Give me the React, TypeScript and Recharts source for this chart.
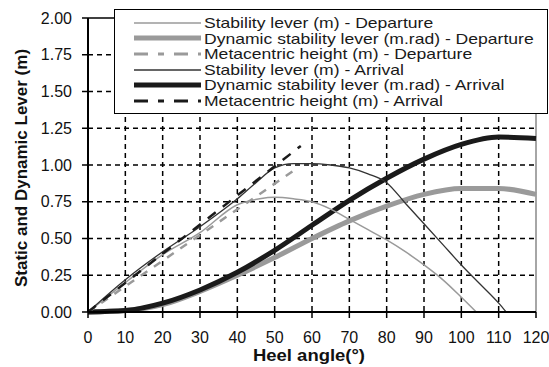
import React from "react";
import { LineChart, Line, XAxis, YAxis, CartesianGrid, ReferenceLine, Legend } from "recharts";

// heel angles (deg) and levers (m / m.rad)
const depStabAngles = [0, 10, 20, 30, 40, 46, 50, 55, 60, 65, 70, 75, 80, 85, 90, 95, 100, 104];
const depStab = [0, 0.2, 0.39, 0.54, 0.73, 0.77, 0.78, 0.77, 0.75, 0.7, 0.63, 0.56, 0.49, 0.41, 0.32, 0.22, 0.1, 0];

const arrStabAngles = [0, 10, 20, 30, 40, 45, 50, 55, 60, 65, 70, 75, 80, 85, 90, 95, 100, 105, 110, 112];
const arrStab = [0, 0.22, 0.41, 0.58, 0.77, 0.88, 0.98, 1.01, 1.01, 1.0, 0.98, 0.94, 0.88, 0.74, 0.6, 0.46, 0.32, 0.19, 0.06, 0];

const dynAngles = [0, 10, 20, 30, 40, 50, 60, 70, 80, 90, 100, 110, 120];
const depDyn = [0, 0.01, 0.05, 0.14, 0.25, 0.37, 0.5, 0.62, 0.72, 0.8, 0.84, 0.84, 0.8];
const arrDyn = [0, 0.01, 0.06, 0.15, 0.27, 0.42, 0.59, 0.76, 0.91, 1.04, 1.14, 1.19, 1.18];

const depGMAngles = [0, 55];
const depGM = [0, 0.96];
const arrGMAngles = [0, 57];
const arrGM = [0, 1.13];

const xTicks = [0, 10, 20, 30, 40, 50, 60, 70, 80, 90, 100, 110, 120];
const yTicks = [0, 0.25, 0.5, 0.75, 1, 1.25, 1.5, 1.75, 2];

const toPts = (xs: number[], ys: number[]) => xs.map((x, i) => ({ x, y: ys[i] }));

const FONT = "'Liberation Sans', Arial, sans-serif";
const GRAY = "#9a9a9a";
const DARK = "#1a1a1a";

const legendItems = [
  { label: "Stability lever (m) - Departure", color: GRAY, width: 1.5, dash: undefined },
  { label: "Dynamic stability lever (m.rad) - Departure", color: GRAY, width: 5, dash: undefined },
  { label: "Metacentric height (m) - Departure", color: GRAY, width: 3, dash: "14 10 6 10" },
  { label: "Stability lever (m) - Arrival", color: "#333", width: 1.5, dash: undefined },
  { label: "Dynamic stability lever (m.rad) - Arrival", color: DARK, width: 5, dash: undefined },
  { label: "Metacentric height (m) - Arrival", color: DARK, width: 3, dash: "14 10 6 10" },
];

function LegendBox() {
  return (
    <div
      style={{
        width: 434,
        height: 105,
        border: "1.5px solid #000",
        background: "#fff",
        paddingTop: 5,
        boxSizing: "border-box",
        fontFamily: FONT,
      }}
    >
      {legendItems.map((it) => (
        <div key={it.label} style={{ display: "flex", alignItems: "center", height: 15.6 }}>
          <svg width={86} height={12} style={{ flex: "none" }}>
            <line x1={19} x2={86} y1={6} y2={6} stroke={it.color} strokeWidth={it.width} strokeDasharray={it.dash} />
          </svg>
          <span
            style={{
              fontSize: 15,
              lineHeight: "15.6px",
              color: "#1a1a1a",
              whiteSpace: "nowrap",
              display: "inline-block",
              transform: "scaleX(1.17)",
              transformOrigin: "left center",
              marginLeft: 3,
            }}
          >
            {it.label}
          </span>
        </div>
      ))}
    </div>
  );
}

export default function App() {
  return (
    <div style={{ position: "absolute", left: 0, top: 0, width: 549, height: 367, background: "#fff" }}>
      <LineChart width={549} height={367} margin={{ top: 18, right: 13, bottom: 0, left: 0 }}>
        <CartesianGrid
          stroke="#000"
          strokeWidth={1.5}
          strokeDasharray="5 4"
          horizontalValues={[0.25, 0.5, 0.75, 1, 1.25, 1.5, 1.75]}
          verticalValues={[10, 20, 30, 40, 50, 60, 70, 80, 90, 100, 110]}
        />
        <XAxis
          type="number"
          dataKey="x"
          domain={[0, 120]}
          ticks={xTicks}
          allowDuplicatedCategory={false}
          height={55}
          tickSize={6}
          tickMargin={14}
          axisLine={{ stroke: "#000", strokeWidth: 2 }}
          tickLine={{ stroke: "#000", strokeWidth: 1.5 }}
          tick={{ fontSize: 16, fill: "#111", fontFamily: FONT }}
          label={{
            content: (p: any) => {
              const vb = p.viewBox || { x: 88, y: 312, width: 448 };
              return (
                <text
                  x={vb.x + vb.width / 2 - 3}
                  y={vb.y + 49}
                  textAnchor="middle"
                  fontFamily={FONT}
                  fontWeight="bold"
                  fontSize={16}
                  fill="#111"
                  textLength={112}
                  lengthAdjust="spacingAndGlyphs"
                >
                  Heel angle(°)
                </text>
              );
            },
          }}
        />
        <YAxis
          type="number"
          domain={[0, 2]}
          ticks={yTicks}
          width={88}
          tickSize={6}
          tickMargin={10}
          tickFormatter={(v: number) => v.toFixed(2)}
          axisLine={{ stroke: "#000", strokeWidth: 2 }}
          tickLine={{ stroke: "#000", strokeWidth: 1.5 }}
          tick={{ fontSize: 16, fill: "#111", fontFamily: FONT }}
          label={{
            content: (p: any) => {
              const vb = p.viewBox || { x: 0, y: 18, height: 294 };
              const cx = vb.x + 21;
              const cy = vb.y + vb.height / 2 + 3;
              return (
                <text
                  x={cx}
                  y={cy}
                  transform={`rotate(-90 ${cx} ${cy})`}
                  textAnchor="middle"
                  dominantBaseline="central"
                  fontFamily={FONT}
                  fontWeight="bold"
                  fontSize={17}
                  fill="#111"
                >
                  Static and Dynamic Lever (m)
                </text>
              );
            },
          }}
        />
        <ReferenceLine y={2} stroke="#000" strokeWidth={1.5} />
        <ReferenceLine x={120} stroke="#888" strokeWidth={1.5} />

        <Line data={toPts(dynAngles, depDyn)} dataKey="y" type="monotone" stroke={GRAY} strokeWidth={5} dot={false} isAnimationActive={false} />
        <Line data={toPts(dynAngles, arrDyn)} dataKey="y" type="monotone" stroke={DARK} strokeWidth={5} dot={false} isAnimationActive={false} />
        <Line data={toPts(depStabAngles, depStab)} dataKey="y" type="monotone" stroke={GRAY} strokeWidth={1.5} dot={false} isAnimationActive={false} />
        <Line data={toPts(arrStabAngles, arrStab)} dataKey="y" type="monotone" stroke="#333" strokeWidth={1.3} dot={false} isAnimationActive={false} />
        <Line data={toPts(depGMAngles, depGM)} dataKey="y" type="linear" stroke={GRAY} strokeWidth={2.5} strokeDasharray="8 8" dot={false} isAnimationActive={false} />
        <Line data={toPts(arrGMAngles, arrGM)} dataKey="y" type="linear" stroke={DARK} strokeWidth={2.5} strokeDasharray="10 9" dot={false} isAnimationActive={false} />

        <Legend
          layout="vertical"
          align="center"
          verticalAlign="middle"
          wrapperStyle={{ position: "absolute", left: 114, top: 9, width: 434, height: 105 }}
          content={() => <LegendBox />}
        />
      </LineChart>
    </div>
  );
}
